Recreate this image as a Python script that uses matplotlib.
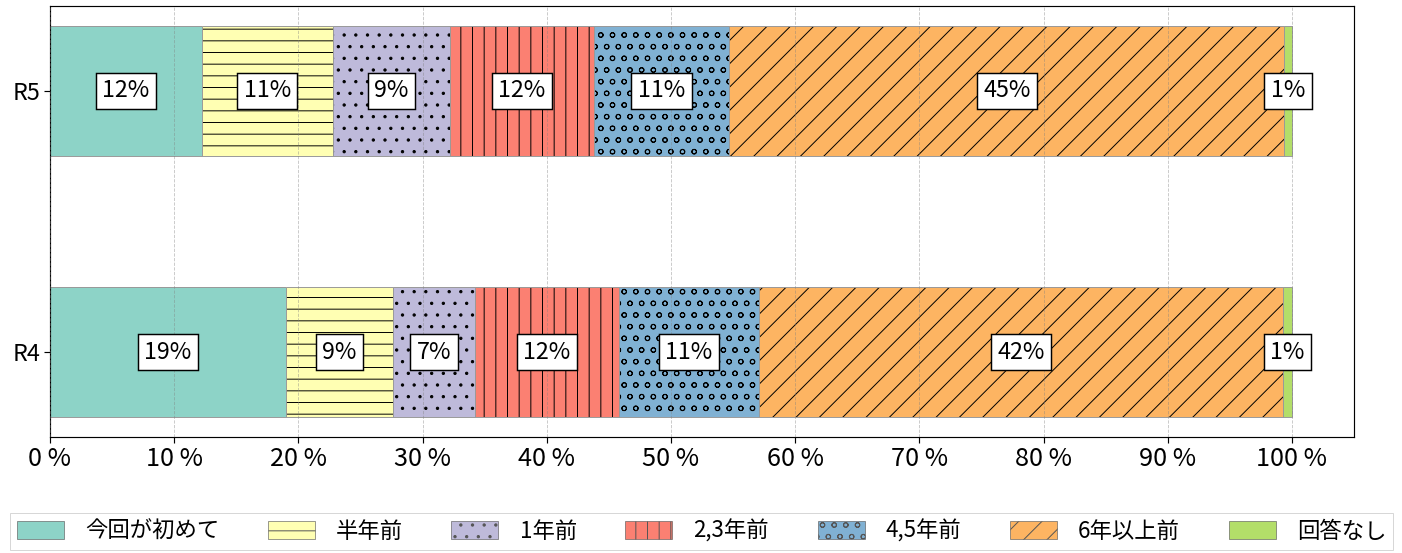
import matplotlib
matplotlib.use("Agg")
import numpy as np
from matplotlib import pyplot as plt
from matplotlib.patches import Patch
from matplotlib.ticker import FuncFormatter

plt.rcParams['font.family'] = ['Noto Sans CJK JP', 'DejaVu Sans']

# data (percent)
years = ["R4", "R5"]
cats = ["今回が初めて", "半年前", "1年前", "2,3年前", "4,5年前", "6年以上前", "回答なし"]
r4 = [19.0, 8.6, 6.6, 11.6, 11.3, 42.2, 0.7]
r5 = [12.2, 10.6, 9.4, 11.6, 10.9, 44.7, 0.6]

colors = ["#8dd3c7", "#ffffb3", "#bebada", "#fb8072", "#80b1d3", "#fdb462", "#b3de69"]
hatches = ["", "-", ".", "|", "o", "/", ""]

vals = np.array([r4, r5])
ypos = np.arange(len(years))

fig = plt.figure(figsize=(1402 / 70, 553 / 70), dpi=70)
ax = fig.add_axes([50 / 1402, 1 - 437 / 553, 1304 / 1402, 431 / 553])

left = np.zeros(len(years))
for i, c in enumerate(cats):
    w = vals[:, i]
    # hatch in black, outline in grey -> two layers
    ax.barh(ypos, w, left=left, height=0.5, color=colors[i], hatch=hatches[i],
            edgecolor="black", linewidth=0, zorder=2)
    ax.barh(ypos, w, left=left, height=0.5, fill=False, edgecolor="#999999",
            linewidth=1, zorder=2)
    for y, l, v in zip(ypos, left, w):
        ax.text(l + v / 2, y, f"{v:.0f}%", ha="center", va="center", fontsize=24, zorder=5,
                bbox=dict(boxstyle="square,pad=0.28", fc="white", ec="black", lw=1.5))
    left = left + w

ax.set_xlim(0, 105)
ax.set_xticks(np.arange(0, 101, 10))
ax.xaxis.set_major_formatter(FuncFormatter(lambda x, p: f"{x:.0f} %"))
ax.set_yticks(ypos)
ax.set_yticklabels(years)
ax.tick_params(axis="x", labelsize=26, length=6, width=1.2)
ax.tick_params(axis="y", labelsize=24, length=6, width=1.2)
ax.grid(axis="x", linestyle="--", color="gray", alpha=0.45, linewidth=0.9, zorder=3)
ax.set_axisbelow(False)
for s in ax.spines.values():
    s.set_linewidth(1.2)

handles = [Patch(facecolor=colors[i], hatch=hatches[i], edgecolor="#555555", linewidth=0.6)
           for i in range(len(cats))]
fig.legend(handles=handles, labels=cats, loc="upper left", ncol=7, mode="expand",
           bbox_to_anchor=(10 / 1402, 1 - 513 / 553, 1383 / 1402, 0), borderaxespad=0,
           fontsize=23, fancybox=False, edgecolor="#cccccc", handlelength=2.1,
           handleheight=0.85, handletextpad=0.95, borderpad=0.3)

fig.savefig("out.png", dpi=70)
